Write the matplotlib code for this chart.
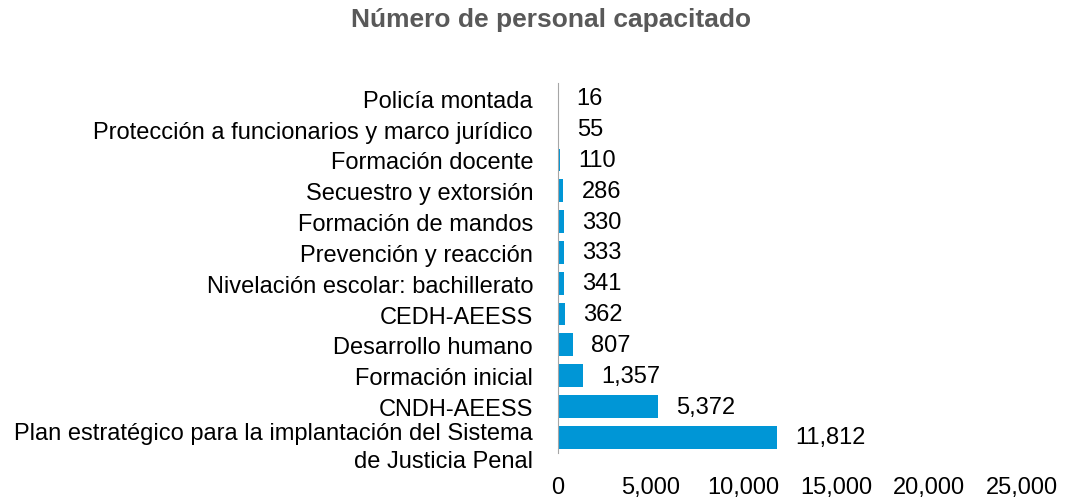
import matplotlib.pyplot as plt
from matplotlib.ticker import FuncFormatter
from matplotlib.transforms import ScaledTranslation

plt.rcParams['font.family'] = ['Liberation Sans', 'DejaVu Sans']

cursos = ["Policía montada",
          "Protección a funcionarios y marco jurídico",
          "Formación docente",
          "Secuestro y extorsión",
          "Formación de mandos",
          "Prevención y reacción",
          "Nivelación escolar: bachillerato",
          "CEDH-AEESS",
          "Desarrollo humano",
          "Formación inicial",
          "CNDH-AEESS",
          "Plan estratégico para la implantación del Sistema\nde Justicia Penal"]
personal = [16, 55, 110, 286, 330, 333, 341, 362, 807, 1357, 5372, 11812]

fig = plt.figure(figsize=(10.92, 5.02), dpi=100)
ax = fig.add_axes([0.511, 0.096, 0.425, 0.737])

pos = list(range(len(cursos)))
bars = ax.barh(pos, personal, height=0.74, color="#0096D6")
ax.set_ylim(len(cursos) - 0.5, -0.5)
ax.set_xlim(0, 25000)
ax.set_xticks([0, 5000, 10000, 15000, 20000, 25000])
ax.xaxis.set_major_formatter(FuncFormatter(lambda v, p: f"{int(v):,}"))
ax.set_yticks(pos)
ax.set_yticklabels(cursos, fontsize=17)
ax.tick_params(axis='y', length=0, pad=18)
ax.tick_params(axis='x', length=0, pad=17, labelsize=17)

# last label wraps to two lines, keep first line on the bar
last = ax.get_yticklabels()[-1]
last.set_verticalalignment('top')
last.set_linespacing(1.35)
last.set_transform(last.get_transform() + ScaledTranslation(0, 11 / 72, fig.dpi_scale_trans))

for s in ['top', 'right', 'bottom']:
    ax.spines[s].set_visible(False)
ax.spines['left'].set_color('#A6A6A6')

for y, v in zip(pos, personal):
    ax.annotate(f"{v:,}", (v, y), xytext=(13, 0), textcoords='offset points',
                va='center', ha='left', fontsize=17)

fig.suptitle("Número de personal capacitado", x=0.505, y=0.985, fontsize=19,
             fontweight='bold', color='#595959')

fig.savefig("out.png", dpi=100)
